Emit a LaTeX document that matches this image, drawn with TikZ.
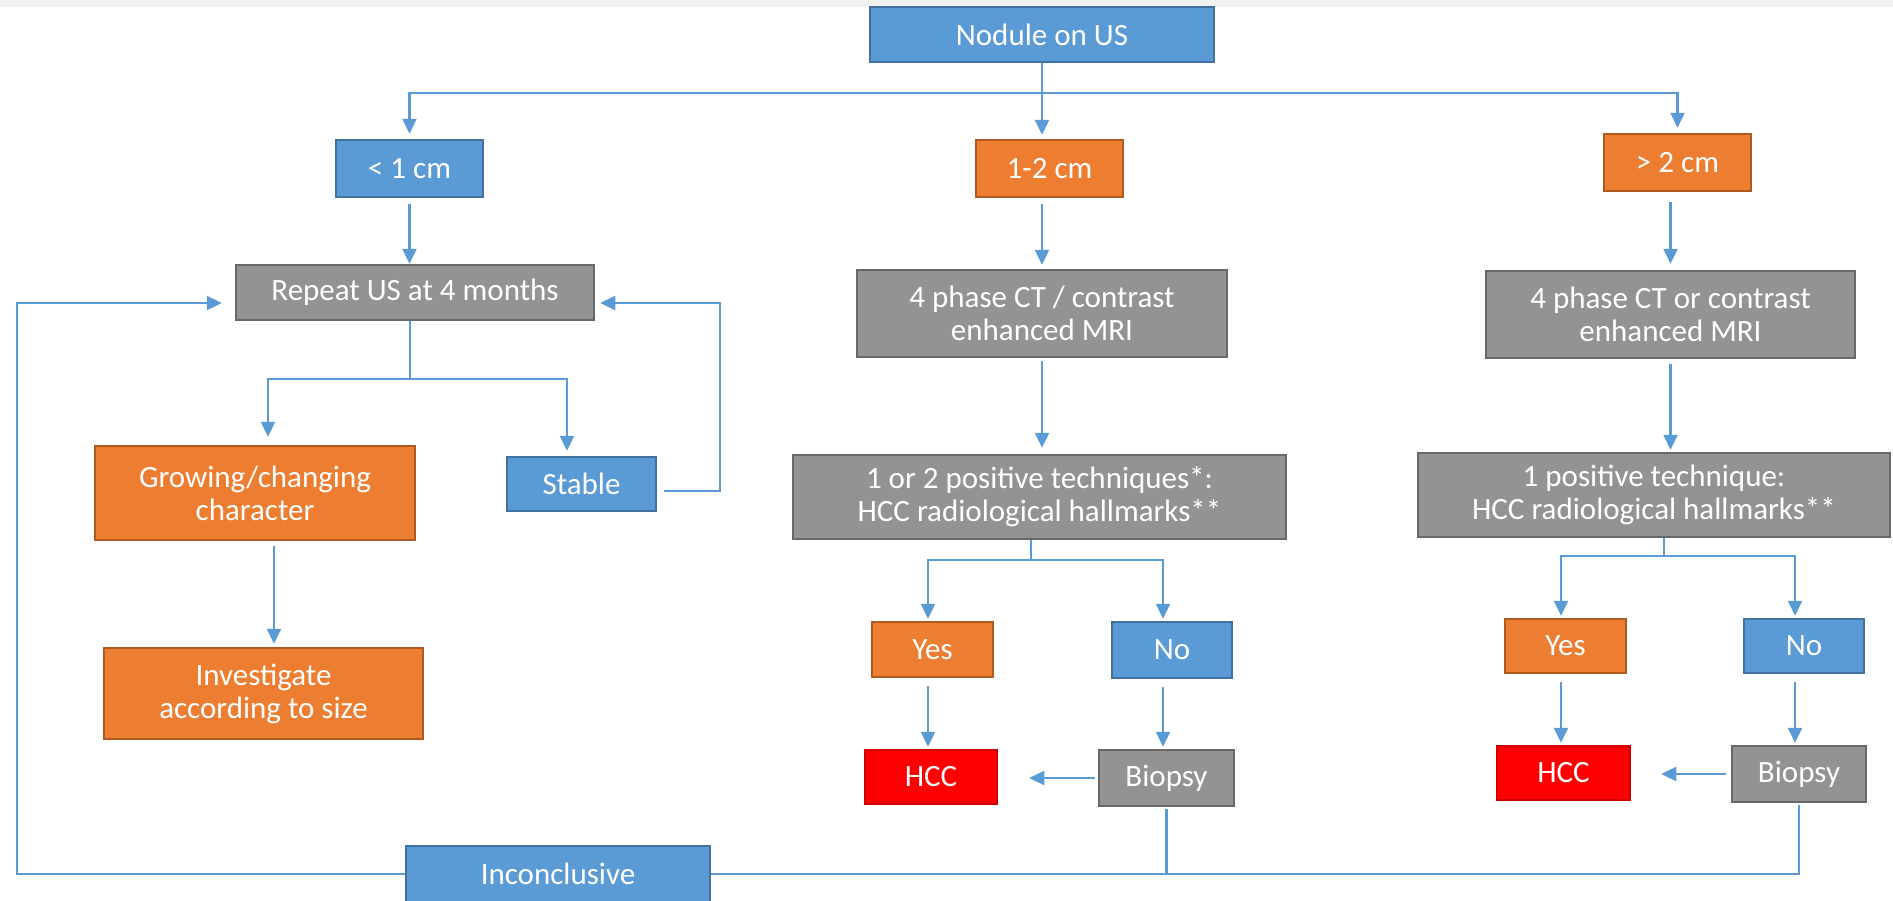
\documentclass[tikz,border=0pt]{standalone}
\usepackage{fontspec}
\setmainfont{Carlito}
\usetikzlibrary{arrows.meta}

\definecolor{boxblue}{HTML}{5B9BD5}
\definecolor{boxblueedge}{HTML}{41719C}
\definecolor{boxorange}{HTML}{ED7D31}
\definecolor{boxorangeedge}{HTML}{AE5A21}
\definecolor{boxgray}{HTML}{939393}
\definecolor{boxgrayedge}{HTML}{686868}
\definecolor{boxred}{HTML}{FF0000}
\definecolor{boxrededge}{HTML}{D00000}
\definecolor{linkblue}{HTML}{5B9BD5}
\definecolor{topband}{HTML}{F2F2F2}

\begin{document}
\begin{tikzpicture}[x=1pt,y=-1pt,
  box/.style={draw, line width=2.5pt, inner sep=0pt, align=center,
              text=white, font=\fontsize{31}{33}\selectfont},
  bluebox/.style={box, fill=boxblue, draw=boxblueedge},
  orangebox/.style={box, fill=boxorange, draw=boxorangeedge},
  graybox/.style={box, fill=boxgray, draw=boxgrayedge},
  redbox/.style={box, fill=boxred, draw=boxrededge},
  link/.style={draw=linkblue, line width=2.4pt},
  arr/.style={link, -{Triangle[length=15pt,width=14pt]}},
]
\useasboundingbox (0,0) rectangle (1893,900);
\fill[white] (0,0) rectangle (1893,900);
\fill[topband] (0,0) rectangle (1893,7);

% ---- boxes ----
\node[bluebox, minimum width=344pt, minimum height=55pt] (nodule) at (1042,34.5) {Nodule on US};

\node[bluebox,   minimum width=147pt, minimum height=57pt] (lt1) at (409.5,168.5) {< 1 cm};
\node[orangebox, minimum width=147pt, minimum height=57pt] (c12) at (1049.5,168.5) {1-2 cm};
\node[orangebox, minimum width=147pt, minimum height=57pt] (gt2) at (1677.5,162.5) {> 2 cm};

\node[graybox, minimum width=358pt, minimum height=55pt] (repeat) at (415,292.5) {Repeat US at 4 months};
\node[graybox, minimum width=370pt, minimum height=87pt] (ct1) at (1042,313.5) {4 phase CT / contrast\\enhanced MRI};
\node[graybox, minimum width=369pt, minimum height=87pt] (ct2) at (1670.5,314.5) {4 phase CT or contrast\\enhanced MRI};

\node[orangebox, minimum width=320pt, minimum height=94pt] (growing) at (255,493) {Growing/changing\\character};
\node[bluebox,   minimum width=149pt, minimum height=54pt] (stable) at (581.5,484) {Stable};
\node[orangebox, minimum width=319pt, minimum height=91pt] (invest) at (263.5,693.5) {Investigate\\according to size};

\node[graybox, minimum width=493pt, minimum height=84pt] (pos1) at (1039.5,497) {1 or 2 positive techniques*:\\HCC radiological hallmarks**};
\node[graybox, minimum width=472pt, minimum height=84pt] (pos2) at (1654,495) {1 positive technique:\\HCC radiological hallmarks**};

\node[orangebox, minimum width=121pt, minimum height=55pt] (yes1) at (932.5,649.5) {Yes};
\node[bluebox,   minimum width=120pt, minimum height=56pt] (no1)  at (1172,650) {No};
\node[redbox,    minimum width=132pt, minimum height=54pt] (hcc1) at (931,777) {HCC};
\node[graybox,   minimum width=135pt, minimum height=56pt] (bio1) at (1166.5,778) {Biopsy};

\node[orangebox, minimum width=121pt, minimum height=54pt] (yes2) at (1565.5,646) {Yes};
\node[bluebox,   minimum width=120pt, minimum height=54pt] (no2)  at (1804,646) {No};
\node[redbox,    minimum width=133pt, minimum height=54pt] (hcc2) at (1563.5,773) {HCC};
\node[graybox,   minimum width=134pt, minimum height=56pt] (bio2) at (1799,774) {Biopsy};

\node[bluebox, minimum width=304pt, minimum height=56pt] (incon) at (558,874) {Inconclusive};

% ---- junction points of the connectors ----
\coordinate (bus0) at (1042,93);
\coordinate (bus1) at (410,379);
\coordinate (bus2) at (1031,560);
\coordinate (bus3) at (1664,556);
\coordinate (loopL) at (17,303);
\coordinate (loopR) at (720,303);

% ---- size split ----
\draw[link] (nodule.south) -- (bus0);
\draw[arr, shorten >=5pt] (bus0) -| (lt1.north);
\draw[arr, shorten >=5pt] (bus0) -| (gt2.north);
\draw[arr, shorten >=4pt] (bus0) -- (bus0 |- c12.north);

% ---- < 1 cm branch ----
\draw[arr, shorten <=6pt] (lt1.south) -- (lt1.south |- repeat.north);
\draw[link] (bus1 |- repeat.south) -- (bus1);
\draw[arr, shorten >=8pt] (bus1) -| ([xshift=13pt]growing.north);
\draw[arr, shorten >=5pt] (bus1) -| ([xshift=-14.5pt]stable.north);
\draw[arr, shorten <=5pt, shorten >=3pt] ([xshift=19pt]growing.south) -- ([xshift=10.5pt]invest.north);
\draw[arr, shorten <=7pt, shorten >=5pt] ([yshift=-7pt]stable.east) -| (loopR) -- (loopR -| repeat.east);

% ---- 1-2 cm branch ----
\draw[arr, shorten <=6pt, shorten >=4pt] (ct1.north |- c12.south) -- (ct1.north);
\draw[arr, shorten <=3pt, shorten >=6pt] (ct1.south) -- (ct1.south |- pos1.north);
\draw[link] (bus2 |- pos1.south) -- (bus2);
\draw[arr, shorten >=2pt] (bus2) -| ([xshift=-4.5pt]yes1.north);
\draw[arr, shorten >=2pt] (bus2) -| ([xshift=-9pt]no1.north);
\draw[arr, shorten <=8pt, shorten >=2pt] ([xshift=-4.5pt]yes1.south) -- ([xshift=-3pt]hcc1.north);
\draw[arr, shorten <=8pt, shorten >=2pt] ([xshift=-9pt]no1.south) -- ([xshift=-3.5pt]bio1.north);
\draw[arr, shorten <=3pt, shorten >=31pt] (bio1.west) -- (bio1.west -| hcc1.east);

% ---- > 2 cm branch ----
\draw[arr, shorten <=10pt, shorten >=6pt] (ct2.north |- gt2.south) -- (ct2.north);
\draw[arr, shorten <=5pt, shorten >=2pt] (ct2.south) -- (ct2.south |- pos2.north);
\draw[link] (bus3 |- pos2.south) -- (bus3);
\draw[arr, shorten >=2pt] (bus3) -| ([xshift=-4.5pt]yes2.north);
\draw[arr, shorten >=2pt] (bus3) -| ([xshift=-9pt]no2.north);
\draw[arr, shorten <=8pt, shorten >=2pt] ([xshift=-4.5pt]yes2.south) -- ([xshift=-2.5pt]hcc2.north);
\draw[arr, shorten <=8pt, shorten >=2pt] ([xshift=-9pt]no2.south) -- ([xshift=-4pt]bio2.north);
\draw[arr, shorten <=5pt, shorten >=30pt] (bio2.west) -- (bio2.west -| hcc2.east);

% ---- inconclusive biopsies loop back ----
\draw[link, shorten <=2pt] (bio1.south) -- (bio1.south |- incon.east);
\draw[link, shorten <=2pt] (bio2.south) |- (incon.east);
\draw[arr, shorten >=13pt] (incon.west) -| (loopL) -- (loopL -| repeat.west);
\end{tikzpicture}
\end{document}
